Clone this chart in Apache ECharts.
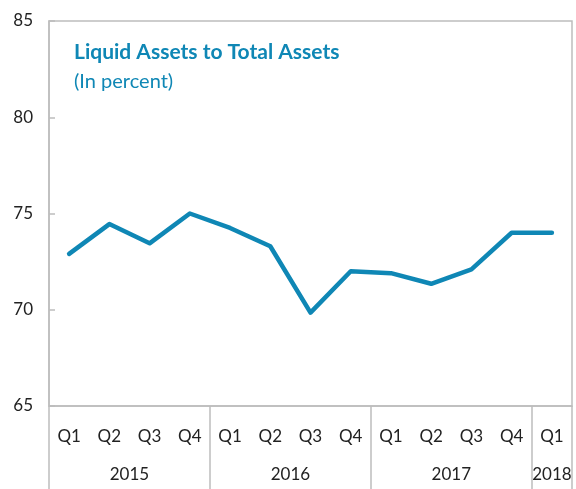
<!DOCTYPE html>
<html>
<head>
<meta charset="utf-8">
<script src="https://cdn.jsdelivr.net/npm/echarts@6/dist/echarts.min.js"></script>
<style>
  html, body { margin: 0; padding: 0; background: #fff; }
  #main { width: 576px; height: 489px; }
</style>
</head>
<body>
<div id="main"></div>
<script>
// quarter labels and values (percent)
var quarters = ['Q1', 'Q2', 'Q3', 'Q4', 'Q1', 'Q2', 'Q3', 'Q4', 'Q1', 'Q2', 'Q3', 'Q4', 'Q1'];
var liquidRatio = [72.9, 74.45, 73.45, 75.0, 74.25, 73.3, 69.85, 72.0, 71.9, 71.35, 72.1, 74.0, 74.0];
var years = ['2015', '2016', '2017', '2018'];
var yearSpans = [4, 4, 4, 1];

// year axis on half-band steps so labels can sit in the middle of each span
var halfSteps = [];
var yearLabelAt = {};
var yearTickAt = { 0: true };
var pos = 0;
for (var i = 0; i < years.length; i++) {
    yearLabelAt[pos + yearSpans[i]] = years[i];
    pos += yearSpans[i] * 2;
    yearTickAt[pos] = true;
}
for (var k = 0; k <= pos; k++) {
    halfSteps.push(yearLabelAt[k] || '');
}

var blue = '#0f87b5';
var grey = '#bdbdbd';
var font = 'Lato';

var myChart = echarts.init(document.getElementById('main'));

var option = {
    animation: false,
    title: {
        text: 'Liquid Assets to Total Assets',
        subtext: '(In percent)',
        left: 74,
        top: 42,
        padding: 0,
        itemGap: 9,
        textStyle: { color: blue, fontFamily: font, fontSize: 21, fontWeight: 'bold' },
        subtextStyle: { color: blue, fontFamily: font, fontSize: 20 }
    },
    grid: {
        left: 49,
        right: 4,
        top: 21,
        bottom: 83,
        show: true,
        borderColor: grey,
        borderWidth: 1.5
    },
    xAxis: [{
        type: 'category',
        data: quarters,
        axisLine: { lineStyle: { color: grey, width: 1.5 } },
        axisTick: { inside: true, length: 7, interval: 0, lineStyle: { color: grey, width: 1.5 } },
        axisLabel: { margin: 22, interval: 0, color: '#222', fontFamily: font, fontSize: 17 }
    }, {
        type: 'category',
        data: quarters,
        position: 'bottom',
        axisLine: { show: false },
        axisTick: { length: 41, interval: 0, lineStyle: { color: grey, width: 1.5 } },
        axisLabel: { show: false }
    }, {
        type: 'category',
        data: halfSteps,
        position: 'bottom',
        boundaryGap: false,
        axisLine: { show: false },
        axisTick: {
            length: 83,
            interval: function (idx) { return !!yearTickAt[idx]; },
            lineStyle: { color: grey, width: 1.5 }
        },
        axisLabel: {
            margin: 60,
            interval: function (idx) { return halfSteps[idx] !== ''; },
            color: '#222',
            fontFamily: font,
            fontSize: 17
        }
    }],
    yAxis: {
        type: 'value',
        min: 65,
        max: 85,
        interval: 5,
        splitLine: { show: false },
        axisLine: { show: true, lineStyle: { color: grey, width: 1.5 } },
        axisTick: { show: true, inside: true, length: 6, lineStyle: { color: grey, width: 1.5 } },
        axisLabel: { margin: 16, color: '#222', fontFamily: font, fontSize: 17 }
    },
    series: [{
        type: 'line',
        data: liquidRatio,
        xAxisIndex: 0,
        symbol: 'none',
        lineStyle: { color: blue, width: 4.5, cap: 'round', join: 'round' }
    }]
};

myChart.setOption(option);
</script>
</body>
</html>
